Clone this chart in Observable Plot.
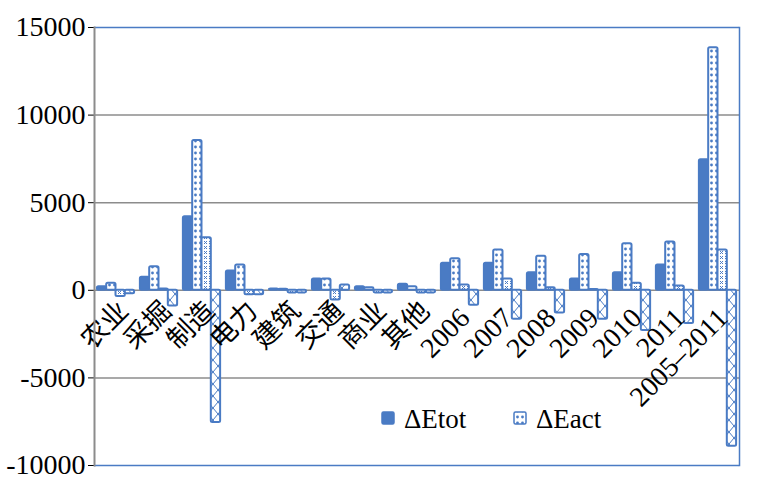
<!DOCTYPE html>
<html><head><meta charset="utf-8">
<script src="https://cdn.jsdelivr.net/npm/d3@7"></script>
<script src="https://cdn.jsdelivr.net/npm/@observablehq/plot@0.6"></script>
<style>
body{margin:0;background:#fff}
#chart{position:relative;width:758px;height:481px}
</style>
</head><body><div id="chart"></div>
<script>
const categories = ["农业","采掘","制造","电力","建筑","交通","商业","其他","2006","2007","2008","2009","2010","2011","2005–2011"];
const seriesNames = ["ΔEtot","ΔEact","ΔEint","ΔEstr"];
const legendSeries = ["ΔEtot","ΔEact"];
const dEtot = [200, 750, 4200, 1100, 80, 650, 200, 350, 1550, 1550, 1000, 650, 1000, 1450, 7450];
const dEact = [400, 1350, 8550, 1450, 60, 650, 150, 200, 1800, 2300, 1950, 2050, 2650, 2750, 13850];
const dEint = [-350, 80, 3000, -250, -150, -550, -150, -150, 300, 650, 150, 50, 400, 250, 2300];
const dEstr = [-200, -900, -7550, -250, -150, 300, -150, -150, -850, -1650, -1300, -1650, -2300, -1900, -8900];
const yTicks = [-10000, -5000, 0, 5000, 10000, 15000];
const gridTicks = [-5000, 0, 5000, 10000];
const borderTicks = [15000, -10000];

const rows = [];
const seriesArrays = [dEtot, dEact, dEint, dEstr];
categories.forEach((c, i) => {
  seriesArrays.forEach((arr, j) => rows.push({category: c, series: seriesNames[j], value: arr[i]}));
});
const isYear = c => /\d/.test(c);

const FONT = "'Liberation Serif', 'Noto Sans CJK SC', serif";
const blue = "#4a7bc4";
const grey = "#8c8c8c";
const fills = {"ΔEtot": blue, "ΔEact": "url(#pDots)", "ΔEint": "url(#pSmallX)", "ΔEstr": "url(#pBigX)"};

const plot = Plot.plot({
  width: 758, height: 481,
  marginLeft: 87, marginRight: 12, marginTop: 27, marginBottom: 16,
  style: {fontSize: "28px", color: "#000", background: "#fff", overflow: "visible"},
  fx: {domain: categories, padding: 0, axis: null},
  x: {domain: seriesNames, paddingInner: 0, paddingOuter: 0.31, axis: null, round: false},
  y: {domain: [-10000, 15000], ticks: yTicks, tickSize: 6, tickPadding: 3, label: null, tickFormat: d => String(d)},
  color: {domain: seriesNames, range: seriesNames.map(s => fills[s]), legend: false},
  marks: [
    Plot.ruleY(gridTicks, {stroke: grey, strokeWidth: 1.5}),
    Plot.ruleY(borderTicks, {stroke: blue, strokeWidth: 1.5}),
    Plot.barY(rows, {fx: "category", x: "series", y: "value", fill: "series", stroke: blue, strokeWidth: 2, rx: 1.5}),
    Plot.text(categories.filter(c => !isYear(c)), {fx: d => d, y: () => 0, text: d => d, rotate: -45, textAnchor: "end", dx: 8, dy: 16, fontSize: 27}),
    Plot.text(categories.filter(isYear), {fx: d => d, y: () => 0, text: d => d, rotate: -45, textAnchor: "end", dx: 5, dy: 23, fontSize: 28}),
    Plot.frame({anchor: "left", fx: [categories[0]], stroke: grey, strokeWidth: 2}),
    Plot.frame({anchor: "right", fx: [categories[categories.length - 1]], stroke: blue, strokeWidth: 1.5})
  ]
});

const svg = d3.select(plot);
const defs = svg.insert("defs", ":first-child");
const pd = defs.append("pattern").attr("id", "pDots").attr("patternUnits", "userSpaceOnUse").attr("width", 5).attr("height", 6);
pd.append("rect").attr("width", 5).attr("height", 6).attr("fill", "#fff");
pd.append("circle").attr("cx", 2.5).attr("cy", 3).attr("r", 1.4).attr("fill", blue);
const ps = defs.append("pattern").attr("id", "pSmallX").attr("patternUnits", "userSpaceOnUse").attr("width", 5).attr("height", 5);
ps.append("rect").attr("width", 5).attr("height", 5).attr("fill", "#fff");
ps.append("path").attr("d", "M1,1L4,4M4,1L1,4").attr("stroke", blue).attr("stroke-width", 1);
const pb = defs.append("pattern").attr("id", "pBigX").attr("patternUnits", "userSpaceOnUse").attr("width", 10).attr("height", 12);
pb.append("rect").attr("width", 10).attr("height", 12).attr("fill", "#fff");
pb.append("path").attr("d", "M0,0L10,12M10,0L0,12").attr("stroke", blue).attr("stroke-width", 1);

// legend
const lg = svg.append("g").attr("class", "legend").attr("text-anchor", "start");
const legendX = [382, 514];
legendSeries.forEach((s, i) => {
  lg.append("rect").attr("x", legendX[i]).attr("y", 412).attr("width", 12).attr("height", 12)
    .attr("fill", fills[s]).attr("stroke", blue).attr("stroke-width", 1.5).attr("rx", 1.5);
  lg.append("text").attr("x", legendX[i] + 22).attr("y", 428).attr("font-size", 27)
    .attr("text-anchor", "start").attr("fill", "#000").text(s);
});

svg.style("font-family", FONT, "important");
svg.selectAll("g").style("font-family", FONT, "important");
svg.selectAll("text").style("font-family", FONT, "important");

document.getElementById("chart").appendChild(plot);
</script>
</body></html>
